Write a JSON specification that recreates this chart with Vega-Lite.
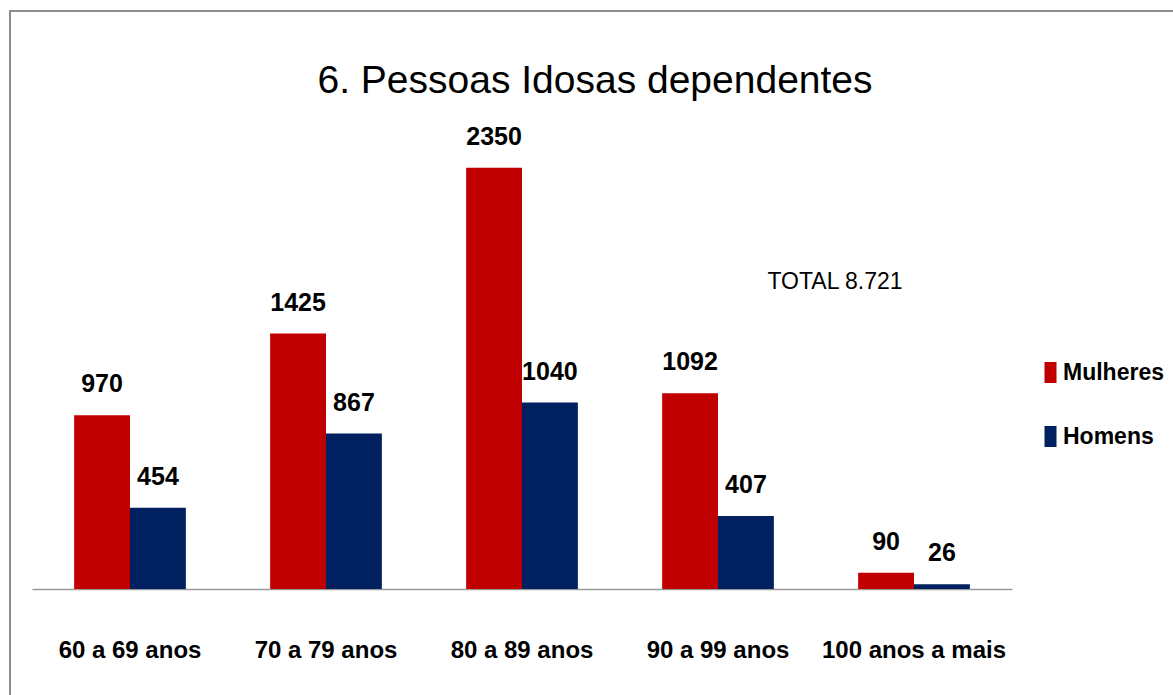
{
  "$schema": "https://vega.github.io/schema/vega-lite/v6.json",
  "width": 1170,
  "height": 690,
  "autosize": {"type": "none"},
  "padding": {"left": 10, "top": 11, "right": 0, "bottom": 0},
  "background": "white",
  "config": {
    "view": {"stroke": "#8c8c8c", "strokeWidth": 2},
    "font": "Liberation Sans"
  },
  "title": {
    "text": "6. Pessoas Idosas dependentes",
    "font": "Liberation Sans",
    "fontSize": 39,
    "fontWeight": "normal",
    "color": "black",
    "anchor": "middle",
    "frame": "group",
    "baseline": "alphabetic",
    "offset": 0,
    "dy": 121
  },
  "datasets": {
    "barras": [
      {"faixa": "60 a 69 anos", "sexo": "Mulheres", "valor": 970},
      {"faixa": "60 a 69 anos", "sexo": "Homens", "valor": 454},
      {"faixa": "70 a 79 anos", "sexo": "Mulheres", "valor": 1425},
      {"faixa": "70 a 79 anos", "sexo": "Homens", "valor": 867},
      {"faixa": "80 a 89 anos", "sexo": "Mulheres", "valor": 2350},
      {"faixa": "80 a 89 anos", "sexo": "Homens", "valor": 1040},
      {"faixa": "90 a 99 anos", "sexo": "Mulheres", "valor": 1092},
      {"faixa": "90 a 99 anos", "sexo": "Homens", "valor": 407},
      {"faixa": "100 anos a mais", "sexo": "Mulheres", "valor": 90},
      {"faixa": "100 anos a mais", "sexo": "Homens", "valor": 26}
    ],
    "total": [
      {"faixa": "90 a 99 anos", "valor": 1714, "rotulo": "TOTAL  8.721"}
    ]
  },
  "encoding": {
    "x": {
      "field": "faixa",
      "type": "nominal",
      "sort": ["60 a 69 anos", "70 a 79 anos", "80 a 89 anos", "90 a 99 anos", "100 anos a mais"],
      "scale": {"range": [22, 1002], "paddingInner": 0.43, "paddingOuter": 0.215},
      "axis": {
        "title": null,
        "labelAngle": 0,
        "labelFont": "Liberation Sans",
        "labelFontSize": 24,
        "labelFontWeight": "bold",
        "labelColor": "black",
        "labelBaseline": "alphabetic",
        "labelPadding": 68,
        "labelLimit": 400,
        "ticks": false,
        "domainColor": "#9a9a9a",
        "domainWidth": 1.5,
        "offset": -112
      }
    },
    "y": {
      "field": "valor",
      "type": "quantitative",
      "scale": {"domain": [0, 2600], "range": [578, 112], "nice": false},
      "axis": null
    }
  },
  "layer": [
    {
      "data": {"name": "barras"},
      "mark": {"type": "bar"},
      "encoding": {
        "xOffset": {
          "field": "sexo",
          "type": "nominal",
          "sort": ["Mulheres", "Homens"],
          "scale": {"paddingInner": 0, "paddingOuter": 0}
        },
        "color": {
          "field": "sexo",
          "type": "nominal",
          "scale": {"domain": ["Mulheres", "Homens"], "range": ["#C00000", "#002060"]},
          "legend": {
            "orient": "none",
            "legendX": 1029,
            "legendY": 350,
            "title": null,
            "padding": 0,
            "labelFont": "Liberation Sans",
            "labelFontSize": 23,
            "labelFontWeight": "bold",
            "labelColor": "black",
            "labelOffset": 1,
            "labelLimit": 300,
            "symbolType": "M-0.572,-1H0.572V1H-0.572Z",
            "symbolSize": 441,
            "symbolStrokeWidth": 0,
            "rowPadding": 40
          }
        }
      }
    },
    {
      "data": {"name": "barras"},
      "mark": {
        "type": "text",
        "font": "Liberation Sans",
        "fontSize": 25,
        "fontWeight": "bold",
        "color": "black",
        "baseline": "alphabetic",
        "align": "center",
        "dy": -23
      },
      "encoding": {
        "xOffset": {
          "field": "sexo",
          "type": "nominal",
          "sort": ["Mulheres", "Homens"],
          "scale": {"paddingInner": 0, "paddingOuter": 0}
        },
        "text": {"field": "valor", "type": "quantitative"}
      }
    },
    {
      "data": {"name": "total"},
      "mark": {
        "type": "text",
        "font": "Liberation Sans",
        "fontSize": 23,
        "fontWeight": "normal",
        "color": "black",
        "baseline": "middle",
        "align": "center",
        "dx": 117
      },
      "encoding": {
        "text": {"field": "rotulo", "type": "nominal"}
      }
    }
  ]
}
